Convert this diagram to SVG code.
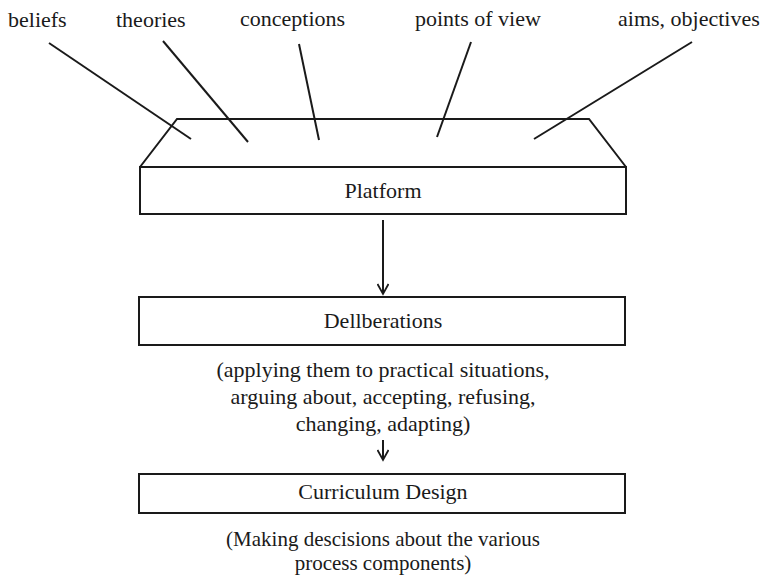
<svg xmlns="http://www.w3.org/2000/svg" width="764" height="575" viewBox="0 0 764 575">
<style>
text{font-family:"Liberation Serif","Times New Roman",serif;font-size:22px;fill:#1a1a1a}
.c{text-anchor:middle}
.b{font-size:21px}
.s{fill:none;stroke:#1a1a1a;stroke-width:2}
</style>
<defs>
<marker id="ah" markerWidth="14" markerHeight="12" refX="11" refY="6" orient="auto" markerUnits="userSpaceOnUse">
<path d="M1,0.5 L11,6 L1,11.5" fill="none" stroke="#1a1a1a" stroke-width="1.8"/>
</marker>
</defs>
<rect width="764" height="575" fill="#fff"/>
<g id="labels">
<text x="8" y="27">beliefs</text>
<text x="116" y="27">theories</text>
<text x="240" y="26">conceptions</text>
<text x="415" y="26">points of view</text>
<text x="618" y="26">aims, objectives</text>
</g>
<g id="platform">
<path class="s" d="M140,167 L177,119 L589,119 L626,167"/>
<rect class="s" x="140" y="167" width="486" height="47"/>
<text class="c" x="383" y="198">Platform</text>
</g>
<g id="deliberations">
<rect class="s" x="139" y="297" width="486" height="48"/>
<text class="c" x="383" y="328">Dellberations</text>
<text class="c" x="383" y="377">(applying them to practical situations,</text>
<text class="c" x="383" y="404">arguing about, accepting, refusing,</text>
<text class="c" x="383" y="431">changing, adapting)</text>
</g>
<g id="curriculum">
<rect class="s" x="139" y="474" width="486" height="39"/>
<text class="c" x="383" y="499">Curriculum Design</text>
<text class="c b" x="383" y="546">(Making descisions about the various</text>
<text class="c b" x="383" y="570">process components)</text>
</g>
<g id="connectors" class="s">
<line x1="49" y1="43" x2="191" y2="139"/>
<line x1="163" y1="41" x2="248" y2="142"/>
<line x1="299" y1="44" x2="319" y2="140"/>
<line x1="471" y1="42" x2="437" y2="137"/>
<line x1="692" y1="42" x2="534" y2="139"/>
<line x1="383" y1="220" x2="383" y2="294" marker-end="url(#ah)"/>
<line x1="383" y1="440" x2="383" y2="460" marker-end="url(#ah)"/>
</g>
</svg>
